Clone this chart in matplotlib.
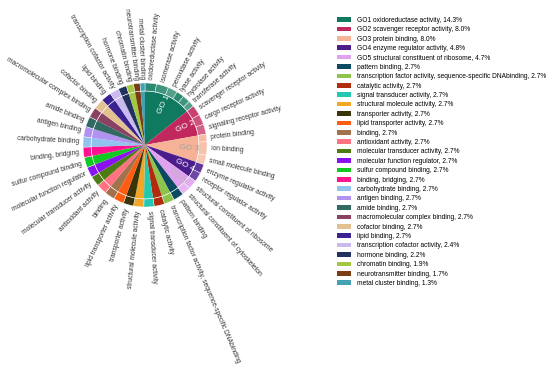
import numpy as np
import matplotlib
matplotlib.use('Agg')
from matplotlib import pyplot as plt
from matplotlib.patches import Patch
from matplotlib import colors as mcolors

plt.rcParams['font.family'] = ['Liberation Sans', 'DejaVu Sans']

# categories of the inner ring (legend order)
categories = ['GO1 oxidoreductase activity', 'GO2 scavenger receptor activity', 'GO3 protein binding',
              'GO4 enzyme regulator activity', 'GO5 structural constituent of ribosome',
              'pattern binding', 'transcription factor activity, sequence-specific DNAbinding',
              'catalytic activity', 'signal transducer activity', 'structural molecule activity',
              'transporter activity', 'lipid transporter activity', 'binding', 'antioxidant activity',
              'molecular transducer activity', 'molecular function regulator', 'sulfur compound binding',
              'binding, bridging', 'carbohydrate binding', 'antigen binding', 'amide binding',
              'macromolecular complex binding', 'cofactor binding', 'lipid binding',
              'transcription cofactor activity', 'hormone binding', 'chromatin binding',
              'neurotransmitter binding', 'metal cluster binding']
percent = [14.3, 8.0, 8.0, 4.8, 4.7] + [2.7] * 19 + [2.4, 2.2, 1.9, 1.7, 1.3]
cat_colors = ['#0f7a5f', '#c0285e', '#f6b296', '#4a1c8c', '#e0a2ee', '#0b4a60', '#8cc44c', '#b02c0c',
              '#22c8b2', '#f2a626', '#3a340a', '#ff5c12', '#a2724c', '#ff7282', '#4c7c12', '#8a12f0',
              '#12c822', '#ff1290', '#92c2ee', '#b292f0', '#316a62', '#8a4262', '#e2c292', '#3a2292',
              '#cabaf0', '#22325e', '#a2c842', '#7a3c12', '#42a2b2']
go_labels = ['GO 1', 'GO 2', 'GO 3', 'GO 4', 'GO 5']
go_label_colors = ['white', 'white', '#a0a0a0', 'white', '#b8b8b8']

# outer ring: children of the GO groups (estimated share), others keep their own name
children = {
    0: (['oxidoreductase activity', 'isomerase activity', 'peroxidase activity', 'lyase activity',
         'hydrolase activity', 'transferase activity'], [3.0, 3.2, 2.5, 2.0, 2.0, 1.6]),
    1: (['scavenger receptor activity', 'cargo receptor activity', 'signaling receptor activity'],
        [2.7, 2.7, 2.6]),
    2: (['protein binding', 'ion binding', 'small molecule binding'], [2.0, 3.5, 2.5]),
    3: (['enzyme regulator activity', 'receptor regulator activity'], [2.4, 2.4]),
    4: (['structural constituent of ribosome', 'structural constituent of cytoskeleton'], [2.4, 2.3]),
}

outer_names, outer_vals, outer_cols = [], [], []
for i, name in enumerate(categories):
    if i in children:
        names, vals = children[i]
        base = np.array(mcolors.to_rgb(cat_colors[i]))
        for j in range(len(names)):
            mix = 0.12 + 0.08 * (j % 3)
            outer_cols.append(tuple(base * (1 - mix) + mix))
        outer_names += names
        outer_vals += vals
    else:
        outer_names.append(name)
        outer_vals.append(percent[i])
        outer_cols.append(cat_colors[i])

fig = plt.figure(figsize=(5.5, 3.75), dpi=100)
ax = fig.add_axes([0, 0, 1, 1])

R = 1.0
ring_w = 0.13
cx, cy, rpx = 145, 145, 62  # pie centre and radius in pixels

inner, _ = ax.pie(percent, radius=R - ring_w, colors=cat_colors, startangle=90, counterclock=False,
                  wedgeprops=dict(linewidth=0, antialiased=True))
outer, _ = ax.pie(outer_vals, radius=R, colors=outer_cols, startangle=90, counterclock=False,
                  wedgeprops=dict(width=ring_w, edgecolor='white', linewidth=0.3))
ax.add_patch(plt.Circle((0, 0), R - ring_w, fill=False, edgecolor='white', lw=0.4, alpha=0.7))

# radial labels outside the ring
for w, name in zip(outer, outer_names):
    ang = (w.theta1 + w.theta2) / 2.0
    a = np.deg2rad(ang)
    x, y = 1.065 * np.cos(a), 1.065 * np.sin(a)
    if np.cos(a) >= 0:
        rot, ha = ang, 'left'
    else:
        rot, ha = ang + 180, 'right'
    if rot > 180:
        rot -= 360
    ax.text(x, y, name, rotation=rot, rotation_mode='anchor', ha=ha, va='center',
            fontsize=4.8, color='#333333')

# GO labels inside inner wedges
for i in range(5):
    w = inner[i]
    ang = (w.theta1 + w.theta2) / 2.0
    a = np.deg2rad(ang)
    x, y = 0.72 * np.cos(a), 0.72 * np.sin(a)
    rot = ang if np.cos(a) >= 0 else ang + 180
    ax.text(x, y, go_labels[i], rotation=rot, rotation_mode='anchor', ha='center', va='center',
            fontsize=6, color=go_label_colors[i])

ax.set_xlim(-cx / rpx, (550 - cx) / rpx)
ax.set_ylim(-(375 - cy) / rpx, cy / rpx)
ax.set_aspect('auto')
ax.axis('off')

handles = [Patch(facecolor=c, edgecolor='none') for c in cat_colors]
labels = ['%s, %.1f%%' % (n, p) for n, p in zip(categories, percent)]
fig.legend(handles, labels, loc='upper left', bbox_to_anchor=(0.612, 0.955), frameon=False,
           fontsize=4.8, handlelength=2.1, handleheight=0.7, labelspacing=0.36,
           handletextpad=1.0, borderaxespad=0, borderpad=0)

fig.savefig('out.png', dpi=100)
